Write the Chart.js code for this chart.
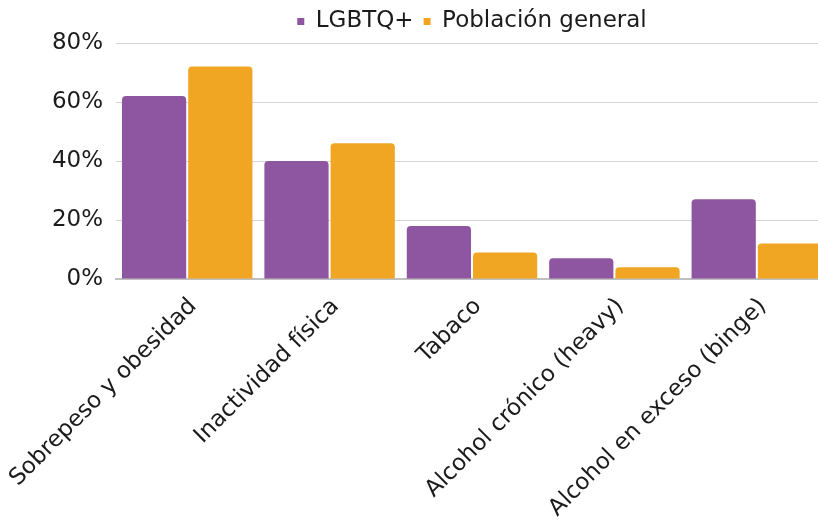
<!DOCTYPE html>
<html>
<head>
<meta charset="utf-8">
<script src="https://cdn.jsdelivr.net/npm/chart.js@4"></script>
<style>
  html, body { margin: 0; padding: 0; background: #fff; overflow: hidden; }
  #wrap { position: relative; width: 828px; height: 525px; }
</style>
</head>
<body>
<div id="wrap"><canvas id="chart"></canvas></div>
<script>
const CATEGORIES = [
  'Sobrepeso y obesidad',
  'Inactividad física',
  'Tabaco',
  'Alcohol crónico (heavy)',
  'Alcohol en exceso (binge)',
];
const LGBTQ = [62, 40, 18, 7, 27];
const GENERAL = [72, 46, 9, 4, 12];
const Y_TICKS = [0, 20, 40, 60, 80];

const PURPLE = '#8e55a0';
const ORANGE = '#f0a623';
const FONT = 'DejaVu Sans';

const topCorners = { topLeft: 4, topRight: 4, bottomLeft: 0, bottomRight: 0 };

const ctx = document.getElementById('chart').getContext('2d');
new Chart(ctx, {
  type: 'bar',
  data: {
    labels: CATEGORIES,
    datasets: [
      {
        label: 'LGBTQ+',
        data: LGBTQ,
        backgroundColor: PURPLE,
        borderRadius: topCorners,
        borderSkipped: false,
      },
      {
        label: 'Población general',
        data: GENERAL,
        backgroundColor: ORANGE,
        borderRadius: topCorners,
        borderSkipped: false,
      },
    ],
  },
  options: {
    responsive: true,
    maintainAspectRatio: false,
    animation: false,
    categoryPercentage: 0.93,
    barPercentage: 0.97,
    layout: { padding: 0 },
    plugins: {
      tooltip: { enabled: false },
      legend: {
        position: 'top',
        fullSize: false,
        labels: {
          boxWidth: 7,
          boxHeight: 7,
          padding: 10,
          color: '#1b1b1b',
          font: { family: FONT, size: 23 },
        },
      },
    },
    scales: {
      x: {
        grid: { display: false },
        border: { display: true, color: '#bfbfbf', width: 2 },
        ticks: {
          minRotation: 45,
          maxRotation: 45,
          autoSkip: false,
          padding: 6,
          labelOffset: 6,
          color: '#1b1b1b',
          font: { family: FONT, size: 23 },
        },
        afterFit: (scale) => {
          scale.height = 246;
          scale.paddingLeft = 0;
          scale.paddingRight = 0;
        },
      },
      y: {
        min: 0,
        max: 80,
        afterBuildTicks: (scale) => {
          scale.ticks = Y_TICKS.map((v) => ({ value: v }));
        },
        grid: { color: '#d4d4d4', drawTicks: false },
        border: { display: false },
        ticks: {
          padding: 13,
          color: '#1b1b1b',
          font: { family: FONT, size: 23 },
          callback: (v) => v + '%',
        },
        afterFit: (scale) => { scale.width = 116; },
      },
    },
  },
});
</script>
</body>
</html>
